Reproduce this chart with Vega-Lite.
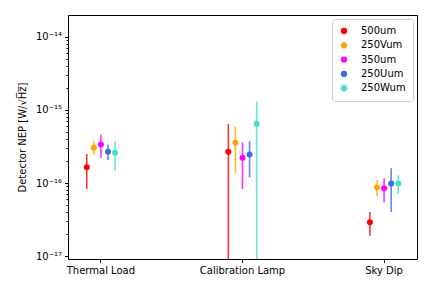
{
  "$schema": "https://vega.github.io/schema/vega-lite/v6.json",
  "width": 349,
  "height": 244,
  "autosize": {"type": "none"},
  "padding": {"left": 68, "top": 15, "right": 15, "bottom": 29},
  "config": {
    "font": "DejaVu Sans",
    "view": {"stroke": "black", "strokeWidth": 1},
    "axis": {"labelFont": "DejaVu Sans", "titleFont": "DejaVu Sans", "labelFontSize": 10, "titleFontSize": 10, "labelColor": "black", "titleColor": "black", "tickColor": "black", "domainColor": "black", "grid": false, "titleFontWeight": "normal"}
  },
  "data": {"values": [
    {"cat": "Thermal Load", "series": "500um", "v": 1.65e-16, "lo": 8.3e-17, "hi": 2.5e-16},
    {"cat": "Thermal Load", "series": "250Vum", "v": 3.05e-16, "lo": 2.42e-16, "hi": 3.8e-16},
    {"cat": "Thermal Load", "series": "350um", "v": 3.38e-16, "lo": 2.2e-16, "hi": 4.6e-16},
    {"cat": "Thermal Load", "series": "250Uum", "v": 2.69e-16, "lo": 2.07e-16, "hi": 3.38e-16},
    {"cat": "Thermal Load", "series": "250Wum", "v": 2.61e-16, "lo": 1.46e-16, "hi": 3.72e-16},
    {"cat": "Calibration Lamp", "series": "500um", "v": 2.69e-16, "lo": 1e-19, "hi": 6.4e-16},
    {"cat": "Calibration Lamp", "series": "250Vum", "v": 3.56e-16, "lo": 1.38e-16, "hi": 5.93e-16},
    {"cat": "Calibration Lamp", "series": "350um", "v": 2.23e-16, "lo": 8.3e-17, "hi": 3.6e-16},
    {"cat": "Calibration Lamp", "series": "250Uum", "v": 2.47e-16, "lo": 1.2e-16, "hi": 3.75e-16},
    {"cat": "Calibration Lamp", "series": "250Wum", "v": 6.45e-16, "lo": 1e-19, "hi": 1.3e-15},
    {"cat": "Sky Dip", "series": "500um", "v": 2.92e-17, "lo": 1.91e-17, "hi": 4.04e-17},
    {"cat": "Sky Dip", "series": "250Vum", "v": 8.7e-17, "lo": 6.67e-17, "hi": 1.1e-16},
    {"cat": "Sky Dip", "series": "350um", "v": 8.5e-17, "lo": 5.5e-17, "hi": 1.17e-16},
    {"cat": "Sky Dip", "series": "250Uum", "v": 9.9e-17, "lo": 4.04e-17, "hi": 1.6e-16},
    {"cat": "Sky Dip", "series": "250Wum", "v": 9.9e-17, "lo": 7.1e-17, "hi": 1.28e-16}
  ]},
  "encoding": {
    "x": {"field": "cat", "type": "nominal", "sort": ["Thermal Load", "Calibration Lamp", "Sky Dip"],
      "scale": {"paddingInner": 0.8, "paddingOuter": 0.1325},
      "axis": {"title": null, "labelAngle": 0, "tickSize": 3.5, "labelPadding": 3, "domain": false}},
    "xOffset": {"field": "series", "type": "nominal", "sort": ["500um", "250Vum", "350um", "250Uum", "250Wum"], "scale": {"type": "point", "padding": 0}},
    "color": {"field": "series", "type": "nominal", "sort": ["500um", "250Vum", "350um", "250Uum", "250Wum"],
      "scale": {"domain": ["500um", "250Vum", "350um", "250Uum", "250Wum"], "range": ["#ff0000", "#ffa500", "#ff00ff", "#4169e1", "#40e0d0"]},
      "legend": {"title": null, "orient": "top-right", "offset": 4, "padding": 7, "strokeColor": "#cccccc", "fillColor": "white", "cornerRadius": 3, "symbolType": "circle", "symbolSize": 40, "symbolStrokeWidth": 0, "symbolOpacity": 1, "labelFontSize": 10, "labelFont": "DejaVu Sans", "labelColor": "black", "rowPadding": 4.3, "labelOffset": 12}}
  },
  "layer": [
    {
      "mark": {"type": "rule", "strokeWidth": 1.6, "opacity": 0.8, "clip": true},
      "encoding": {
        "y": {"field": "lo", "type": "quantitative"},
        "y2": {"field": "hi"}
      }
    },
    {
      "mark": {"type": "circle", "size": 36, "opacity": 1, "clip": true},
      "encoding": {
        "y": {"field": "v", "type": "quantitative",
          "scale": {"type": "log", "domain": [9.2e-18, 1.98e-14], "nice": false},
          "axis": {"title": "Detector NEP [W/√H̅z̅]", "titlePadding": 8, "domain": false,
            "values": [1e-17, 2e-17, 3e-17, 4e-17, 5e-17, 6e-17, 7e-17, 8e-17, 9e-17, 1e-16, 2e-16, 3e-16, 4e-16, 5e-16, 6e-16, 7e-16, 8e-16, 9e-16, 1e-15, 2e-15, 3e-15, 4e-15, 5e-15, 6e-15, 7e-15, 8e-15, 9e-15, 1e-14],
            "tickSize": {"condition": {"test": "abs(log(datum.value)/LN10 - round(log(datum.value)/LN10)) < 0.01", "value": 3.5}, "value": 2},
            "labelExpr": "abs(log(datum.value)/LN10 - round(log(datum.value)/LN10)) < 0.01 ? ('10' + (round(log(datum.value)/LN10) == -14 ? '⁻¹⁴' : round(log(datum.value)/LN10) == -15 ? '⁻¹⁵' : round(log(datum.value)/LN10) == -16 ? '⁻¹⁶' : '⁻¹⁷')) : ''",
            "labelPadding": 3, "labelOverlap": false}}
      }
    }
  ]
}
